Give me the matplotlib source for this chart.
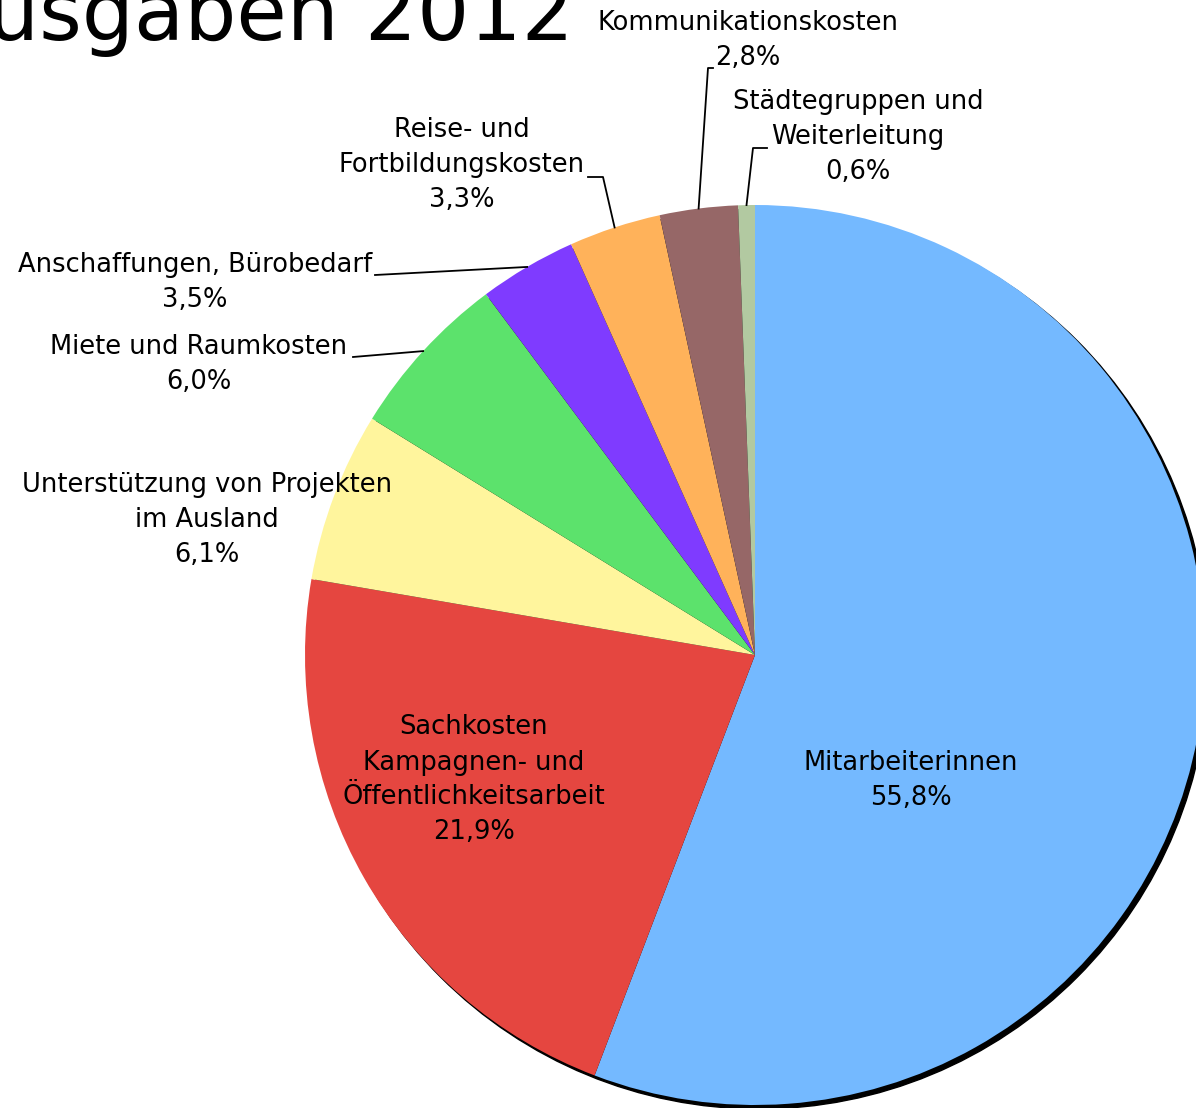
import numpy as np
import matplotlib
matplotlib.use("Agg")
import matplotlib.pyplot as plt
from matplotlib.patches import Circle

# data, clockwise from 12 o'clock
labels = ["Mitarbeiterinnen",
          "Sachkosten\nKampagnen- und\nÖffentlichkeitsarbeit",
          "Unterstützung von Projekten\nim Ausland",
          "Miete und Raumkosten",
          "Anschaffungen, Bürobedarf",
          "Reise- und\nFortbildungskosten",
          "Kommunikationskosten",
          "Städtegruppen und\nWeiterleitung"]
values = [55.8, 21.9, 6.1, 6.0, 3.5, 3.3, 2.8, 0.6]
colors = ["#74B9FF", "#E54640", "#FFF59D", "#5CE26C",
          "#7F3BFF", "#FFB25A", "#966767", "#B2C9A1"]

W, H = 1196, 1108
cx, cy, R = 755, H - 655, 450

fig = plt.figure(figsize=(W / 100, H / 100), dpi=100)
ax = fig.add_axes([0, 0, 1, 1])

# shadow
ax.add_patch(Circle((cx + 4, cy - 4), R, color="black", zorder=0))

wedges, _ = ax.pie(values, colors=colors, startangle=90, counterclock=False,
                   center=(cx, cy), radius=R, frame=True,
                   wedgeprops=dict(linewidth=0))
ax.set_xlim(0, W)
ax.set_ylim(0, H)
ax.set_aspect("equal")
ax.axis("off")

fs = 18.5
pct = [("%.1f%%" % v).replace(".", ",") for v in values]

def edge_point(i):
    w = wedges[i]
    a = np.deg2rad((w.theta1 + w.theta2) / 2)
    return cx + R * np.cos(a), cy + R * np.sin(a)

# label positions (pixel coords from top) and leader elbows
label_pos = [(911, 780), (474, 780), (207, 520), (199, 364),
             (195, 283), (462, 165), (748, 40), (858, 137)]
elbows = [None, None, None, [(353, 357)], [(375, 275)],
          [(603, 177), (588, 177)], [(708, 68), (713, 68)],
          [(753, 148), (767, 148)]]

for i, lab in enumerate(labels):
    x, y = label_pos[i]
    ax.text(x, H - y, lab + "\n" + pct[i], ha="center", va="center",
            fontsize=fs, linespacing=1.45, family="DejaVu Sans", zorder=5)
    if elbows[i]:
        px, py = edge_point(i)
        xs = [px] + [e[0] for e in elbows[i]]
        ys = [py] + [H - e[1] for e in elbows[i]]
        ax.plot(xs, ys, color="black", lw=1.3, zorder=4)

fig.text(574 / W, 1 - 40 / H, "Ausgaben 2012", ha="right", va="baseline",
         fontsize=59, family="DejaVu Sans")

fig.savefig("out.png", dpi=100)
